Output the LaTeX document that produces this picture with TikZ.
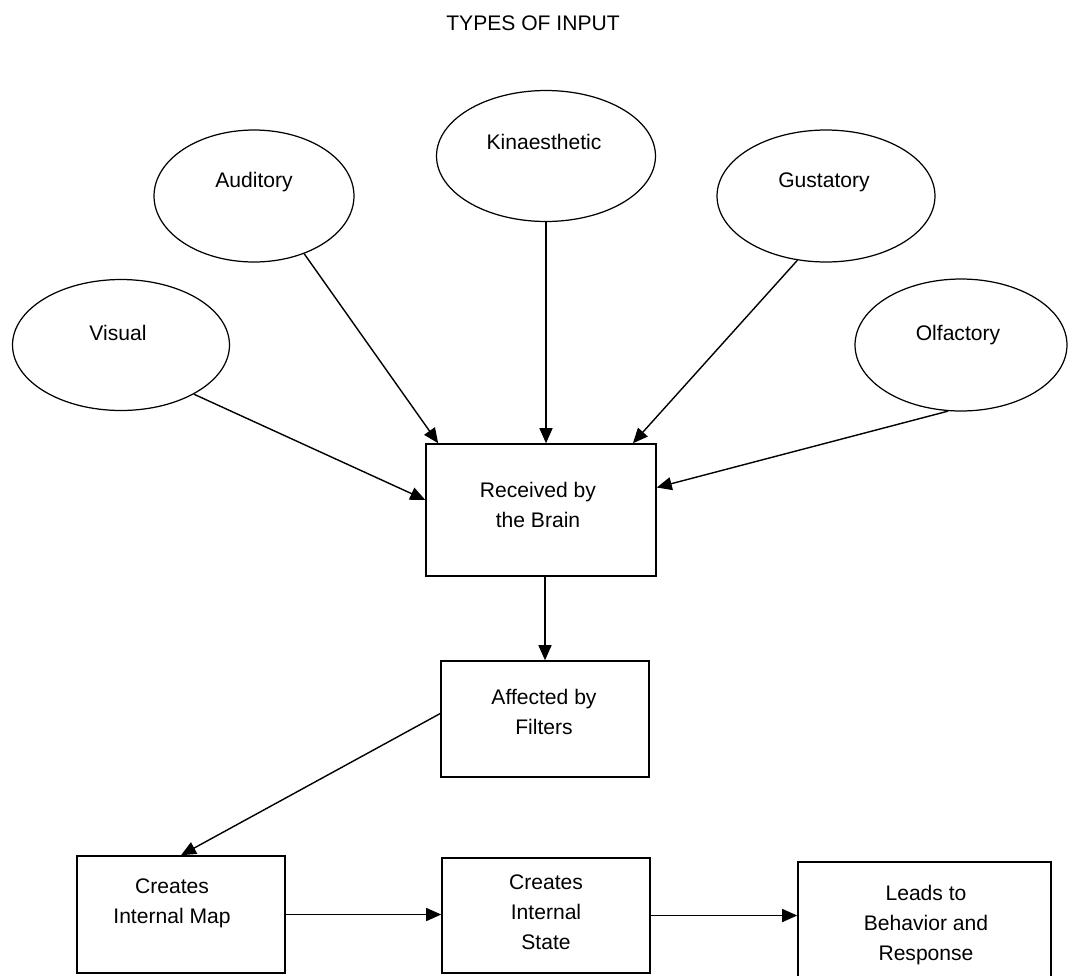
\documentclass[tikz,border=0pt]{standalone}
\usepackage{fontspec}
\setmainfont{Liberation Sans}
\usetikzlibrary{shapes.geometric, arrows.meta, calc}

\begin{document}
\begin{tikzpicture}[
    x={(0.02cm,0cm)},
    y={(0cm,-0.02cm)},
    sense/.style={ellipse, draw, line width=0.7pt, inner sep=0pt},
    stage/.style={rectangle, draw, line width=0.9pt, inner sep=0pt},
    lbl/.style={align=center, inner sep=0pt, font=\fontsize{12}{17}\selectfont},
    flow/.style={line width=0.8pt, -{Triangle[length=0.3cm, width=0.26cm]}}
]
\useasboundingbox (0,0) rectangle (1069,975);
\clip (0,0) rectangle (1069,975);

\node[lbl] (title) at (533,23) {TYPES OF INPUT};

% Senses
\node[sense, minimum width=4.34cm, minimum height=2.62cm] (visual) at (121,345) {};
\node[sense, minimum width=4.0cm, minimum height=2.64cm] (auditory) at (254,196) {};
\node[sense, minimum width=4.38cm, minimum height=2.62cm] (kinaesthetic) at (546,156) {};
\node[sense, minimum width=4.36cm, minimum height=2.64cm] (gustatory) at (826,196) {};
\node[sense, minimum width=4.24cm, minimum height=2.64cm] (olfactory) at (961,345) {};

\node[lbl] (visualT) at (118,333) {Visual};
\node[lbl] (auditoryT) at (254,182) {Auditory};
\node[lbl] (kinaestheticT) at (544,142) {Kinaesthetic};
\node[lbl] (gustatoryT) at (824,182) {Gustatory};
\node[lbl] (olfactoryT) at (958,335) {Olfactory};

% Stages
\node[stage, minimum width=4.6cm, minimum height=2.64cm] (brain) at (541,510) {};
\node[stage, minimum width=4.16cm, minimum height=2.32cm] (filters) at (545,719) {};
\node[stage, minimum width=4.16cm, minimum height=2.34cm] (imap) at (181,914.5) {};
\node[stage, minimum width=4.16cm, minimum height=2.30cm] (istate) at (546,915.5) {};
\node[stage, minimum width=5.06cm, minimum height=2.72cm] (behav) at (924.5,930) {};

\node[lbl] (brainT) at (538,505) {Received by\\the Brain};
\node[lbl] (filtersT) at (544,712) {Affected by\\Filters};
\node[lbl] (imapT) at (172,903) {Creates\\Internal Map};
\node[lbl] (istateT) at (546,912) {Creates\\Internal\\State};
\node[lbl] (behavT) at (926,925) {Leads to\\Behavior and\\Response};

% Input arrows
\draw[flow] (visual.-34) -- (brain.175);
\draw[flow] (auditory.-49) -- (brain.147);
\draw[flow] (kinaesthetic.south) -- (kinaesthetic.south |- brain.north);
\draw[flow] (gustatory.-114) -- (brain.36);
\draw[flow] (olfactory.-101) -- (brain.11);

% Processing chain
\draw[flow] (filters.north |- brain.south) -- (filters.north);
\draw[flow] (filters.177) -- (imap.north);
\draw[flow] (imap.east) -- (imap.east -| istate.west);
\draw[flow] (istate.east) -- (istate.east -| behav.west);
\end{tikzpicture}
\end{document}
